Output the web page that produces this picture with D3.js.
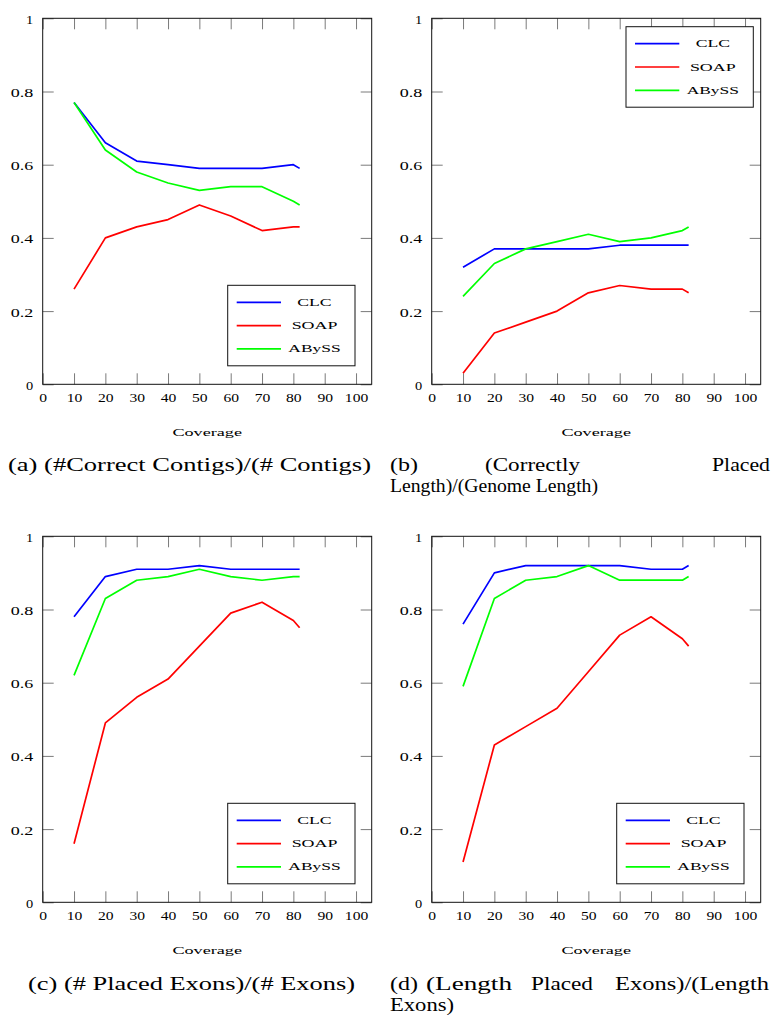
<!DOCTYPE html>
<html>
<head>
<meta charset="utf-8">
<script src="https://cdn.jsdelivr.net/npm/d3@7"></script>
<style>
  html, body { margin: 0; padding: 0; background: #fff; }
  svg { display: block; }
  text { font-family: "Liberation Serif", "Times New Roman", serif; fill: #000; }
</style>
</head>
<body>
<svg id="fig" width="771" height="1019"></svg>
<script>
// ---- data -------------------------------------------------------------
const coverage = [10, 20, 30, 40, 50, 60, 70, 80, 82];
const seriesNames = ["CLC", "SOAP", "ABySS"];
const seriesColors = ["#0000ff", "#ff0000", "#00ff00"];
const xTicks = [0, 10, 20, 30, 40, 50, 60, 70, 80, 90, 100];
const yTicks = [0, 0.2, 0.4, 0.6, 0.8, 1];
const yTickLabels = ["0", "0.2", "0.4", "0.6", "0.8", "1"];
const xAxisTitle = "Coverage";

// (a) correct contigs / contigs
const contigsCLC   = [0.77, 0.66, 0.61, 0.60, 0.59, 0.59, 0.59, 0.60, 0.59];
const contigsSOAP  = [0.26, 0.40, 0.43, 0.45, 0.49, 0.46, 0.42, 0.43, 0.43];
const contigsABySS = [0.77, 0.64, 0.58, 0.55, 0.53, 0.54, 0.54, 0.50, 0.49];

// (b) correctly placed length / genome length
const placedLenCLC   = [0.32, 0.37, 0.37, 0.37, 0.37, 0.38, 0.38, 0.38, 0.38];
const placedLenSOAP  = [0.03, 0.14, 0.17, 0.20, 0.25, 0.27, 0.26, 0.26, 0.25];
const placedLenABySS = [0.24, 0.33, 0.37, 0.39, 0.41, 0.39, 0.40, 0.42, 0.43];

// (c) placed exons / exons
const exonsCLC   = [0.78, 0.89, 0.91, 0.91, 0.92, 0.91, 0.91, 0.91, 0.91];
const exonsSOAP  = [0.16, 0.49, 0.56, 0.61, 0.70, 0.79, 0.82, 0.77, 0.75];
const exonsABySS = [0.62, 0.83, 0.88, 0.89, 0.91, 0.89, 0.88, 0.89, 0.89];

// (d) length placed exons / length exons
const exonLenCLC   = [0.76, 0.90, 0.92, 0.92, 0.92, 0.92, 0.91, 0.91, 0.92];
const exonLenSOAP  = [0.11, 0.43, 0.48, 0.53, 0.63, 0.73, 0.78, 0.72, 0.70];
const exonLenABySS = [0.59, 0.83, 0.88, 0.89, 0.92, 0.88, 0.88, 0.88, 0.89];

// sub-captions, split into the words of each justified line
const captionA = [["(a) (#Correct Contigs)/(# Contigs)"]];
const captionB = [["(b)", "(Correctly", "Placed"], ["Length)/(Genome Length)"]];
const captionC = [["(c) (# Placed Exons)/(# Exons)"]];
const captionD = [["(d)", "(Length", "Placed", "Exons)/(Length"], ["Exons)"]];

// ---- layout -----------------------------------------------------------
const plotW = 329, plotH = 366;
const panels = [
  { left: 42.7,  top: 18.3,  series: [contigsCLC, contigsSOAP, contigsABySS],       legend: "se",
    caption: captionA, capY: 471, spans: [[[8, 371]]] },
  { left: 431.7, top: 18.3,  series: [placedLenCLC, placedLenSOAP, placedLenABySS], legend: "ne",
    caption: captionB, capY: 471, spans: [[[390, 418], [485, 580], [712, 770]], [[390, 598]]] },
  { left: 42.7,  top: 536.3, series: [exonsCLC, exonsSOAP, exonsABySS],             legend: "se",
    caption: captionC, capY: 990, spans: [[[28, 355]]] },
  { left: 431.7, top: 536.3, series: [exonLenCLC, exonLenSOAP, exonLenABySS],       legend: "se",
    caption: captionD, capY: 990, spans: [[[390, 418], [426, 512], [531, 593], [615, 769]], [[390, 454]]] }
];

const svg = d3.select("#fig");
const x = d3.scaleLinear().domain([0, 105]).range([0, plotW]);
const y = d3.scaleLinear().domain([0, 1]).range([plotH, 0]);
const tickLen = 11;
const tickColor = "#7a7a7a";

function stretch(sel, factor) {
  sel.each(function () {
    const n = this.getComputedTextLength();
    d3.select(this).attr("textLength", n * factor).attr("lengthAdjust", "spacingAndGlyphs");
  });
}

panels.forEach(p => {
  const g = svg.append("g").attr("transform", `translate(${p.left},${p.top})`);

  // inward ticks on all four sides
  const gb = g.append("g").attr("transform", `translate(0,${plotH})`)
    .call(d3.axisBottom(x).tickValues(xTicks).tickSizeInner(-tickLen).tickSizeOuter(0).tickFormat(d => String(d)));
  const gt = g.append("g")
    .call(d3.axisTop(x).tickValues(xTicks).tickSizeInner(-tickLen).tickSizeOuter(0).tickFormat(""));
  const gl = g.append("g")
    .call(d3.axisLeft(y).tickValues(yTicks).tickSizeInner(-tickLen).tickSizeOuter(0).tickFormat((d, i) => yTickLabels[i]));
  const gr = g.append("g").attr("transform", `translate(${plotW},0)`)
    .call(d3.axisRight(y).tickValues(yTicks).tickSizeInner(-tickLen).tickSizeOuter(0).tickFormat(""));

  [gb, gt, gl, gr].forEach(a => {
    a.select(".domain").remove();
    a.selectAll(".tick line").attr("stroke", tickColor).attr("stroke-width", 1);
    a.attr("font-family", null).attr("font-size", null);
  });
  gt.selectAll(".tick text").remove();
  gr.selectAll(".tick text").remove();

  gb.selectAll(".tick text")
    .attr("y", 18).attr("dy", null)
    .style("font-size", "12px").attr("fill", "#000");
  stretch(gb.selectAll(".tick text"), 1.3);

  gl.selectAll(".tick text")
    .attr("x", -9.4).attr("dy", null).attr("y", 5)
    .style("font-size", "12px").attr("fill", "#000");
  gl.selectAll(".tick text").each(function (d, i) {
    const t = d3.select(this);
    const lbl = yTickLabels[i];
    if (lbl.length > 1) t.attr("textLength", 22.5).attr("lengthAdjust", "spacingAndGlyphs");
    else t.attr("textLength", this.getComputedTextLength() * 1.2).attr("lengthAdjust", "spacingAndGlyphs");
  });

  // series lines
  const line = d3.line().x(d => x(d[0])).y(d => y(d[1]));
  p.series.forEach((vals, si) => {
    g.append("path")
      .datum(coverage.map((c, i) => [c, vals[i]]))
      .attr("d", line)
      .attr("fill", "none")
      .attr("stroke", seriesColors[si])
      .attr("stroke-width", 1.7)
      .attr("stroke-linejoin", "round");
  });

  // frame
  g.append("rect").attr("x", 0).attr("y", 0).attr("width", plotW).attr("height", plotH)
    .attr("fill", "none").attr("stroke", "#111").attr("stroke-width", 1);

  // legend
  const lw = 127.3, lh = 80.5;
  const lx = p.legend === "ne" ? plotW - 7.4 - lw : plotW - 16.7 - lw;
  const ly = p.legend === "ne" ? 8.4 : plotH - 18.5 - lh;
  const lg = g.append("g").attr("transform", `translate(${lx},${ly})`);
  lg.append("rect").attr("width", lw).attr("height", lh)
    .attr("fill", "#fff").attr("stroke", "#111").attr("stroke-width", 1);
  const legendWidths = [34.3, 45.7, 52.3];
  seriesNames.forEach((name, si) => {
    const ry = 17 + si * 23.3;
    lg.append("line").attr("x1", 9).attr("x2", 53.3).attr("y1", ry).attr("y2", ry)
      .attr("stroke", seriesColors[si]).attr("stroke-width", 1.7);
    lg.append("text").attr("x", 86.8 - legendWidths[si] / 2).attr("y", ry + 3.6)
      .style("font-size", "11px")
      .attr("textLength", legendWidths[si]).attr("lengthAdjust", "spacingAndGlyphs")
      .text(name);
  });

  // axis title
  g.append("text").attr("x", plotW / 2 - 34.8).attr("y", plotH + 51.7)
    .style("font-size", "11px")
    .attr("textLength", 69.6).attr("lengthAdjust", "spacingAndGlyphs")
    .text(xAxisTitle);

  // sub-caption
  p.caption.forEach((words, li) => {
    words.forEach((w, wi) => {
      const [x0, x1] = p.spans[li][wi];
      svg.append("text").attr("x", x0).attr("y", p.capY + li * 21)
        .style("font-size", "19px")
        .attr("textLength", x1 - x0).attr("lengthAdjust", "spacingAndGlyphs")
        .text(w);
    });
  });
});
</script>
</body>
</html>
